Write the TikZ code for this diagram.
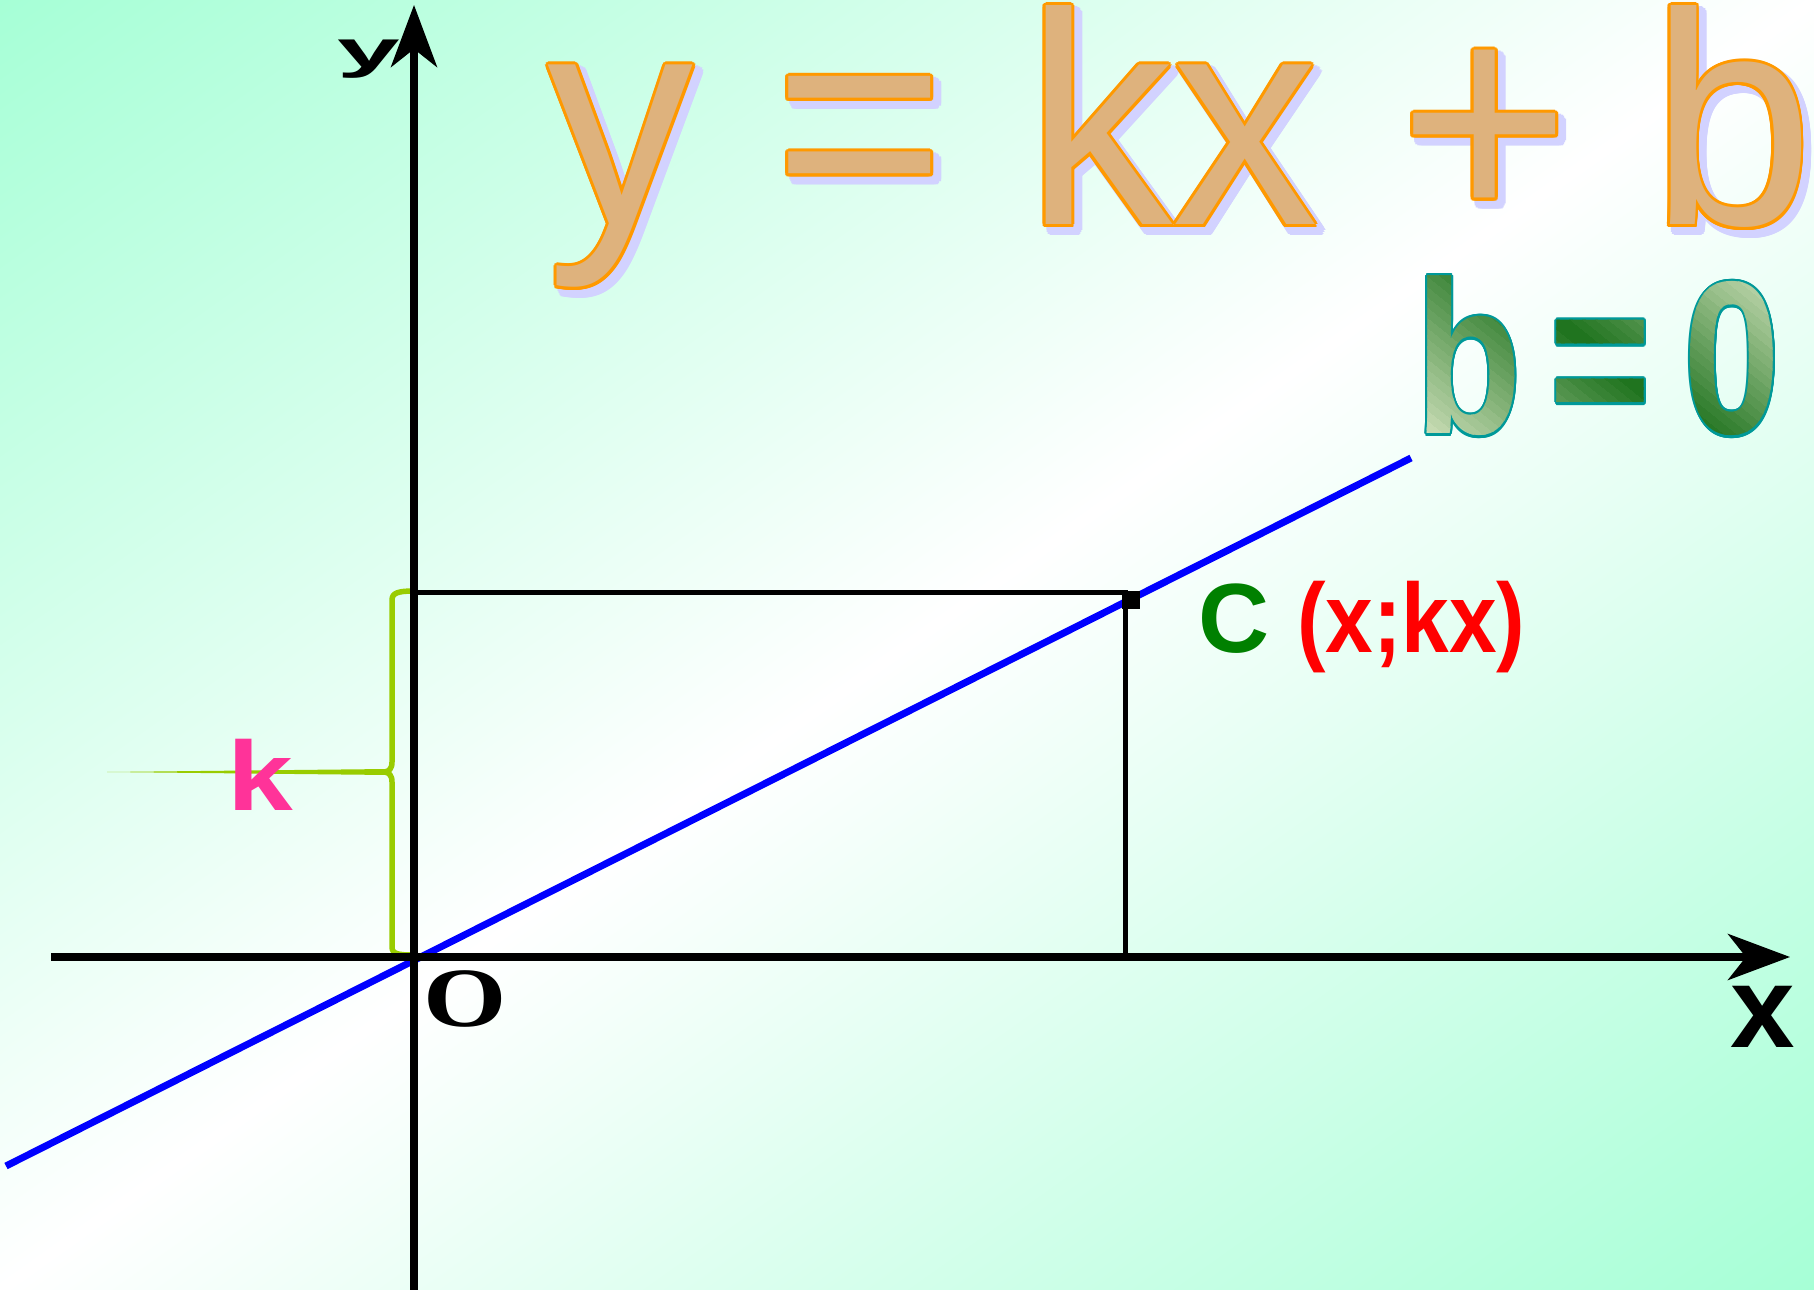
\documentclass[tikz,border=0pt]{standalone}
\usepackage{fontspec}
\usepackage{graphicx}
\usepackage[copies]{contour}
\usetikzlibrary{arrows.meta}
\setmainfont{Liberation Sans}
\newfontfamily\oserif{Liberation Serif}
\definecolor{mint}{RGB}{166,255,214}
\definecolor{linec}{RGB}{0,0,255}
\definecolor{bracec}{RGB}{153,204,0}
\definecolor{kpink}{RGB}{255,51,153}
\definecolor{cgreen}{RGB}{0,128,0}
\definecolor{cred}{RGB}{255,0,0}
\definecolor{tfill}{RGB}{222,178,125}
\definecolor{tstroke}{RGB}{255,153,0}
\definecolor{tglow}{RGB}{210,210,255}
\definecolor{bteal}{RGB}{0,153,153}
\definecolor{blight}{RGB}{222,234,200}
\definecolor{bdark}{RGB}{26,112,26}
\newcommand{\Eq}{y = kx + b}
\newcommand{\Bz}{b\hspace{3.5mm}=\hspace{4mm}0}

\begin{document}
\begin{tikzpicture}[x=0.1mm, y=-0.1mm,
    axis/.style={draw=black, line width=0.75mm, -{Stealth[length=6.2mm, width=4.6mm, inset=1.8mm]}},
    graph/.style={draw=linec, line width=0.7mm},
    guide/.style={draw=black, line width=0.5mm},
    brace/.style={draw=bracec, line width=0.55mm},
    cpoint/.style={rectangle, fill=black, minimum size=1.8mm, inner sep=0pt},
    lbl/.style={font=\bfseries\fontsize{28pt}{28pt}\selectfont, inner sep=0pt},
    axlbl/.style={font=\bfseries\fontsize{33pt}{33pt}\selectfont, inner sep=0pt},
    olbl/.style={font=\oserif\bfseries\fontsize{24pt}{24pt}\selectfont, inner sep=0pt, xscale=1.27},
    title/.style={font=\fontsize{86pt}{88pt}\selectfont, anchor=base west, inner sep=0pt, xscale=0.966},
    bzfont/.style={font=\bfseries\fontsize{62pt}{62pt}\selectfont, anchor=base west, inner sep=0pt, xscale=0.8},
  ]
  \useasboundingbox (0,0) rectangle (1814,1290);
  % --- background: mint in two corners, white along the other diagonal
  \begin{scope}
    \clip (0,0) rectangle (1814,1290);
    \begin{scope}[transform canvas={rotate around={35.4:(907,645)}}]
      \shade[top color=mint, bottom color=mint, middle color=white] (-243,-406) rectangle (2057,1696);
    \end{scope}
  \end{scope}

  % --- headline, with its soft shadow
  \node[title, text=tglow] (eqglow) at (553,231) {\contourlength{0.5mm}\contour{tglow}{\Eq}};
  \node[title, text=tfill] (eq) at (547,225) {\contourlength{0.3mm}\contour{tstroke}{\Eq}};

  % --- b = 0: teal rim, then the green fill laid in slanted strips
  \coordinate (bzc) at (1602,356);
  \node[bzfont, text=bteal] (bz) at (1415,434) {\contourlength{0.25mm}\contour{bteal}{\Bz}};
  \foreach \i in {0,...,49} {
    \pgfmathsetmacro{\sa}{-200+8*\i}
    \pgfmathtruncatemacro{\p}{max(0,100*(1-abs(\sa+4)/190))}
    \colorlet{bmix}{bdark!\p!blight}
    \begin{scope}
      \clip[shift={(bzc)}, rotate=51] (\sa,-320) rectangle ({\sa+10},320);
      \node[bzfont, text=bmix] at (1415,434) {\Bz};
    \end{scope}
  }

  % --- the graph and the point C
  \coordinate (org) at (414,957);
  \coordinate (lstart) at (6,1166);
  \coordinate (lend) at (1411,458);
  \coordinate (Cy) at (414,593);
  \coordinate (Cc) at (1125,593);
  \coordinate (Cx) at (1125,957);
  \draw[graph] (lstart) -- (lend);
  \draw[guide] (Cy) -- (Cc) -- (Cx);
  \node[cpoint] (C) at (1131,600) {};
  \node[lbl, anchor=base west] (Clab) at (1198,653) {\textcolor{cgreen}{C} \textcolor{cred}{\scalebox{0.87}[1]{(x;kx)}}};

  % --- brace for k
  \draw[brace] (414,591) .. controls (398,591) and (392,593) .. (392,600) -- (392,762)
    .. controls (392,769) and (389,771) .. (385,772) .. controls (389,773) and (392,775) .. (392,782)
    -- (392,947) .. controls (392,954) and (398,955) .. (414,955);
  \fill[bracec] (107,772) -- (388,769) -- (388,775) -- cycle;
  \node[lbl, text=kpink, anchor=base, xscale=1.2] (k) at (260,811) {k};

  % --- axes
  \node[axlbl, xscale=0.97, yscale=0.45] (ylab) at (369,59) {y};
  \draw[axis] (414,1290) -- (414,5);
  \draw[axis] (51,957) -- (1790,957);
  \node[axlbl, anchor=base] (xlab) at (1763,1047) {x};
  \node[olbl] (O) at (465,999) {O};

\end{tikzpicture}
\end{document}
